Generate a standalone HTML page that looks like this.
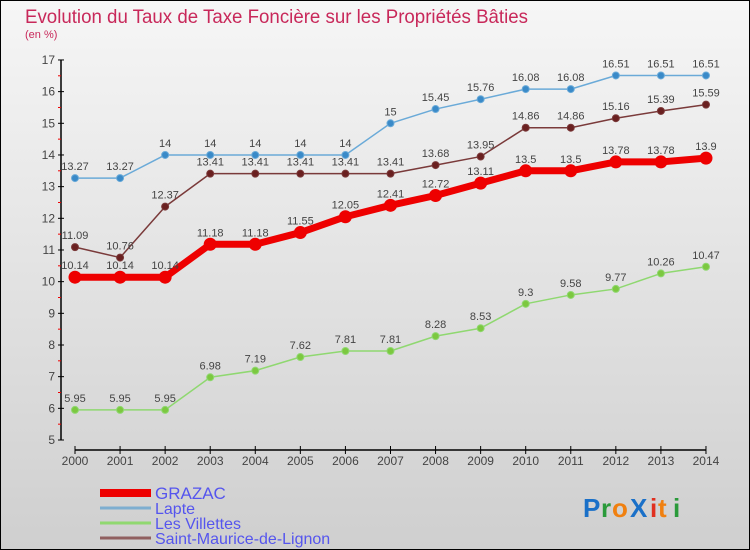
<!DOCTYPE html>
<html><head><meta charset="utf-8"><style>
body{margin:0}
#c{width:750px;height:550px;position:relative;box-sizing:border-box;border:1px solid #000;background:linear-gradient(#f6f6f6,#cfcfcf);overflow:hidden;font-family:"Liberation Sans",sans-serif}
</style></head><body>
<div id="c">
<svg id="s" width="750" height="550" style="position:absolute;left:-1px;top:-1px">
<text x="25" y="23" font-size="19" fill="#c8285a" textLength="503" lengthAdjust="spacingAndGlyphs">Evolution du Taux de Taxe Foncière sur les Propriétés Bâties</text>
<text x="25" y="38" font-size="11" fill="#c8285a">(en %)</text>
<g id="g"></g>
<g font-size="26" font-family="Liberation Sans, sans-serif" font-weight="bold">
<text x="583" y="517" fill="#1a70c8">P</text><text x="601" y="517" fill="#2a9a3a">r</text><text x="612" y="517" fill="#f08010">o</text><text x="630" y="517" fill="#1a70c8">X</text><text x="650" y="517" fill="#e03020">i</text><text x="658" y="517" fill="#f08010">t</text><text x="673" y="517" fill="#2a9a3a">i</text>
</g>
</svg>
</div>
<script>
const years=[2000,2001,2002,2003,2004,2005,2006,2007,2008,2009,2010,2011,2012,2013,2014];
const yTicks=[5,6,7,8,9,10,11,12,13,14,15,16,17];
const grazac=[10.14,10.14,10.14,11.18,11.18,11.55,12.05,12.41,12.72,13.11,13.5,13.5,13.78,13.78,13.9];
const lapte=[13.27,13.27,14,14,14,14,14,15,15.45,15.76,16.08,16.08,16.51,16.51,16.51];
const villettes=[5.95,5.95,5.95,6.98,7.19,7.62,7.81,7.81,8.28,8.53,9.3,9.58,9.77,10.26,10.47];
const stmaurice=[11.09,10.76,12.37,13.41,13.41,13.41,13.41,13.41,13.68,13.95,14.86,14.86,15.16,15.39,15.59];
const names=["GRAZAC","Lapte","Les Villettes","Saint-Maurice-de-Lignon"];

const NS="http://www.w3.org/2000/svg";
const g=document.getElementById('g');
const X=i=>75+i*45.07;
const Y=v=>440-(v-5)*31.67;
function el(t,a,p){const e=document.createElementNS(NS,t);for(const k in a)e.setAttribute(k,a[k]);(p||g).appendChild(e);return e;}
function txt(x,y,s,a){const e=el('text',Object.assign({x:x,y:y,'font-size':11,fill:'#444','text-anchor':'middle'},a||{}));e.textContent=s;return e;}
let ya=el('line',{x1:61,y1:Y(17),x2:61,y2:Y(5),stroke:'#000','stroke-width':1.5});


yTicks.forEach(v=>{
  el('line',{x1:58,y1:Y(v),x2:64,y2:Y(v),stroke:'#000'});
  if(v<17) el('line',{x1:58,y1:Y(v+0.5),x2:61,y2:Y(v+0.5),stroke:'#e00'});
  const t=txt(55,Y(v)+4,String(v),{'text-anchor':'end','font-size':12});
  
  
});
let xa=el('line',{x1:X(0),y1:450,x2:X(14),y2:450,stroke:'#000','stroke-width':1.5});


years.forEach((yr,i)=>{
  el('line',{x1:X(i),y1:446,x2:X(i),y2:454,stroke:'#000'});
  const t=txt(X(i),465,String(yr),{'font-size':12});
  
  
});
function series(data,color,dot,w,r,name){
  const pts=data.map((v,i)=>X(i)+','+Y(v)).join(' ');
  const l=el('polyline',{points:pts,fill:'none',stroke:color,'stroke-width':w,'stroke-linejoin':'round'});
  
  
  data.forEach((v,i)=>{
    const c=el('circle',{cx:X(i),cy:Y(v),r:r,fill:dot,stroke:color,'stroke-width':1});
    
    
    const t=txt(X(i),Y(v)-8,String(v));
    
    
  });
}
series(villettes,'#8fd870','#7cc840',1.5,3.5,'les-villettes');
series(stmaurice,'#7a3a3a','#6a2020',1.5,3.5,'saint-maurice');
series(lapte,'#6aaad8','#3a8ac8',1.5,3.5,'lapte');
series(grazac,'#ee0000','#ee0000',7,6,'grazac');
const lc=['#ee0000','#7eaed0','#90d870','#906060'],lw=[8,3,3,3],ly=[493,508,523,538];
names.forEach((n,i)=>{
  const l=el('line',{x1:100,y1:ly[i],x2:151,y2:ly[i],stroke:lc[i],'stroke-width':lw[i]});
  
  
  const t=el('text',{x:155,y:ly[i]+6,'font-size':i==0?17:16,fill:'#5555ee'});
  t.textContent=n;
  
  
});
</script>
</body></html>
